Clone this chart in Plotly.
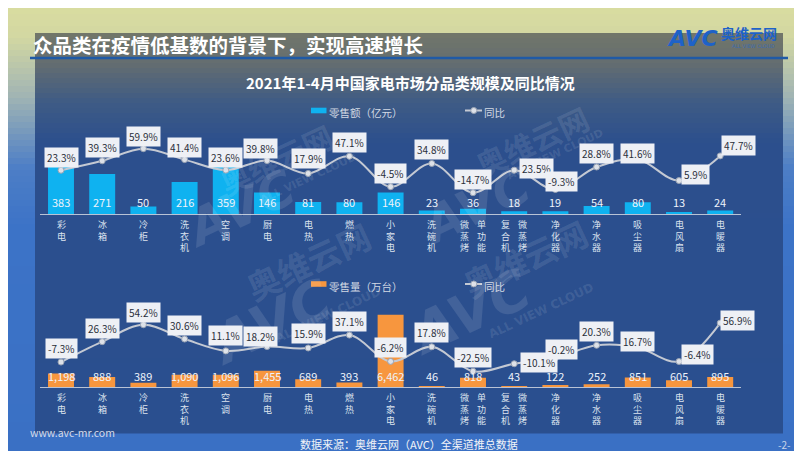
import plotly.graph_objects as go

# ---------------- data ----------------
categories = ['彩电', '冰箱', '冷柜', '洗衣机', '空调', '厨电', '电热', '燃热', '小家电', '洗碗机',
              '单功能微蒸烤', '微蒸烤复合机', '净化器', '净水器', '吸尘器', '电风扇', '电暖器']
tick_columns = [['彩电'], ['冰箱'], ['冷柜'], ['洗衣机'], ['空调'], ['厨电'], ['电热'], ['燃热'],
                ['小家电'], ['洗碗机'], ['微蒸烤', '单功能'], ['复合机', '微蒸烤'], ['净化器'],
                ['净水器'], ['吸尘器'], ['电风扇'], ['电暖器']]
sales_value = [383, 271, 50, 216, 359, 146, 81, 80, 146, 23, 36, 18, 19, 54, 80, 13, 24]
sales_value_yoy = [23.3, 39.3, 59.9, 41.4, 23.6, 39.8, 17.9, 47.1, -4.5, 34.8, -14.7, 23.5, -9.3,
                   28.8, 41.6, 5.9, 47.7]
sales_volume = [1198, 888, 389, 1090, 1096, 1455, 689, 393, 6462, 46, 818, 43, 122, 252, 851, 605, 895]
sales_volume_yoy = [-7.3, 26.3, 54.2, 30.6, 11.1, 18.2, 15.9, 37.1, -6.2, 17.8, -22.5, -10.1, -0.2,
                    20.3, 16.7, -6.4, 56.9]

# label offsets (pixels) for the YoY boxes: (dx, dy up)
top_label_shift = [(0, 13), (0, 13), (0, 12), (0, 12), (0, 13), (-7, 12), (0, 15), (0, 14), (0, 13),
                   (0, 14), (0, 13), (22, 2), (6, 8), (0, 14), (0, 6), (16, 6), (18, 10)]
bot_label_shift = [(0, 14), (0, 13), (0, 12), (0, 14), (0, 15), (-7, 10), (0, 14), (0, 14), (0, 14),
                   (0, 14), (0, 14), (25, 1), (6, 8), (0, 14), (0, 6), (18, 7), (17, 3)]

W, H = 802, 451
CJK = 'Noto Sans CJK SC'


def px(x):
    return x / W


def py(y):
    return 1 - y / H


def hex2rgb(h):
    h = h.lstrip('#')
    return [int(h[i:i + 2], 16) for i in (0, 2, 4)]


def grad(stops, y):
    for (y0, c0), (y1, c1) in zip(stops, stops[1:]):
        if y0 <= y <= y1:
            t = (y - y0) / (y1 - y0) if y1 > y0 else 0
            a, b = hex2rgb(c0), hex2rgb(c1)
            return 'rgb(%d,%d,%d)' % tuple(round(a[k] + (b[k] - a[k]) * t) for k in range(3))
    return stops[-1][1]


shapes = []
# outer slide background gradient
outer_stops = [(0, '#d9dca0'), (30, '#d2d7a2'), (90, '#9fb3b4'), (160, '#4d7ec6'), (220, '#3c73c7'), (451, '#3a70c4')]
step = 6
for y in range(0, H, step):
    shapes.append(dict(type='rect', xref='paper', yref='paper', x0=0, x1=1, y0=py(y + step + 0.5), y1=py(y),
                       fillcolor=grad(outer_stops, y + step / 2), line_width=0, layer='below'))
# inner panel gradient
panel_stops = [(25, '#72776a'), (55, '#646d70'), (95, '#3e5b85'), (135, '#2c4f8d'), (425, '#2a4f8f')]
for y in range(25, 425, 5):
    y2 = min(y + 5, 425)
    shapes.append(dict(type='rect', xref='paper', yref='paper', x0=px(27), x1=px(775), y0=py(y2 + 0.5), y1=py(y),
                       fillcolor=grad(panel_stops, y + 2.5), line_width=0, layer='below'))
# title underline
shapes.append(dict(type='line', xref='paper', yref='paper', x0=px(22), x1=px(780), y0=py(50), y1=py(50),
                   line=dict(color='#1f5aa6', width=2.5)))

fig = go.Figure()

xdom = [px(32.4), px(732.8)]
top_dom = [py(206), py(90)]
bot_dom = [py(379), py(263)]
xs = list(range(len(categories)))

fig.add_trace(go.Bar(x=xs, y=sales_value, xaxis='x', yaxis='y', marker_color='#0fb2f0',
                     marker_line_width=0, width=0.63, showlegend=False, hoverinfo='skip'))
fig.add_trace(go.Scatter(x=xs, y=sales_value_yoy, xaxis='x', yaxis='y2', mode='lines+markers',
                         line=dict(color='#c4c9d3', width=2, shape='spline', smoothing=1.0),
                         marker=dict(size=6, color='#dde1e8', line=dict(color='#98a2b3', width=1)),
                         cliponaxis=False, showlegend=False, hoverinfo='skip'))
fig.add_trace(go.Bar(x=xs, y=sales_volume, xaxis='x2', yaxis='y3', marker_color='#f7963e',
                     marker_line_width=0, width=0.63, showlegend=False, hoverinfo='skip'))
fig.add_trace(go.Scatter(x=xs, y=sales_volume_yoy, xaxis='x2', yaxis='y4', mode='lines+markers',
                         line=dict(color='#c4c9d3', width=2, shape='spline', smoothing=1.0),
                         marker=dict(size=6, color='#dde1e8', line=dict(color='#98a2b3', width=1)),
                         cliponaxis=False, showlegend=False, hoverinfo='skip'))

ax_common = dict(showgrid=False, zeroline=False, showticklabels=False, ticks='')
fig.update_layout(
    xaxis=dict(domain=xdom, range=[-0.5, 16.5], anchor='y', showline=True, linecolor='#b9c3d5', linewidth=1.2, **ax_common),
    xaxis2=dict(domain=xdom, range=[-0.5, 16.5], anchor='y3', showline=True, linecolor='#b9c3d5', linewidth=1.2, **ax_common),
    yaxis=dict(domain=top_dom, range=[0, 784], **ax_common),
    yaxis2=dict(domain=top_dom, range=[-50.8, 145.8], overlaying='y', anchor='x', **ax_common),
    yaxis3=dict(domain=bot_dom, range=[0, 10376], anchor='x2', **ax_common),
    yaxis4=dict(domain=bot_dom, range=[-48.4, 142.7], overlaying='y3', anchor='x2', **ax_common),
)

ann = []
# title & headings
ann.append(dict(text='<b>众品类在疫情低基数的背景下，实现高速增长</b>', x=px(23), y=py(36), xref='paper', yref='paper',
                xanchor='left', yanchor='middle', showarrow=False, font=dict(family=CJK, size=19.5, color='white')))
ann.append(dict(text='<b>2021年1-4月中国家电市场分品类规模及同比情况</b>', x=px(403), y=py(75), xref='paper', yref='paper',
                xanchor='center', yanchor='middle', showarrow=False, font=dict(family=CJK, size=15, color='white')))
# logo
ann.append(dict(text='<b><i>AVC</i></b>', x=px(657), y=py(31), xref='paper', yref='paper', xanchor='left',
                yanchor='middle', showarrow=False, font=dict(family='DejaVu Sans', size=22, color='#1e62c8')))
ann.append(dict(text='<b>奥维云网</b>', x=px(711), y=py(25), xref='paper', yref='paper', xanchor='left',
                yanchor='middle', showarrow=False, font=dict(family=CJK, size=14, color='#1e62c8')))
ann.append(dict(text='ALL VIEW CLOUD', x=px(745), y=py(38), xref='paper', yref='paper', xanchor='center',
                yanchor='middle', showarrow=False, font=dict(family='DejaVu Sans', size=5, color='#3a6ab0')))
# footer
ann.append(dict(text='www.avc-mr.com', x=px(20), y=py(424), xref='paper', yref='paper', xanchor='left',
                yanchor='middle', showarrow=False, font=dict(family=CJK, size=10.5, color='#d5dbe8')))
ann.append(dict(text='数据来源：奥维云网（AVC）全渠道推总数据', x=px(401), y=py(436), xref='paper', yref='paper',
                xanchor='center', yanchor='middle', showarrow=False, font=dict(family=CJK, size=11, color='#f2f4f8')))
ann.append(dict(text='-2-', x=px(776), y=py(436), xref='paper', yref='paper', xanchor='center',
                yanchor='middle', showarrow=False, font=dict(family=CJK, size=10, color='#c9d4e8')))

# watermarks
wm = 'rgba(255,255,255,0.11)'
for (ax_, ay_, bx, by, cx, cy, s) in [(165, 148, 268, 103, 300, 140, 1.0), (468, 145, 590, 85, 600, 116, 1.0),
                                      (190, 372, 300, 305, 320, 340, 1.1), (462, 362, 590, 302, 590, 336, 1.1)]:
    ann.append(dict(text='<b><i>AVC</i></b>', x=px(ax_), y=py(ay_), xref='paper', yref='paper', showarrow=False,
                    textangle=-25, font=dict(family='DejaVu Sans', size=int(50 * s), color=wm)))
    ann.append(dict(text='<b>奥维云网</b>', x=px(bx), y=py(by), xref='paper', yref='paper', showarrow=False,
                    textangle=-25, font=dict(family=CJK, size=int(30 * s), color=wm)))
    ann.append(dict(text='<b>ALL VIEW CLOUD</b>', x=px(cx), y=py(cy), xref='paper', yref='paper', showarrow=False,
                    textangle=-25, font=dict(family='DejaVu Sans', size=int(11 * s), color=wm)))

# legends
for (ly, name, col) in [(102.5, '零售额（亿元）', '#0fb2f0'), (276, '零售量（万台）', '#f7963e')]:
    shapes.append(dict(type='rect', xref='paper', yref='paper', x0=px(303), x1=px(318.5), y0=py(ly + 2.8),
                       y1=py(ly - 2.8), fillcolor=col, line_width=0))
    ann.append(dict(text=name, x=px(319), y=py(ly + 2.5), xref='paper', yref='paper', xanchor='left',
                    yanchor='middle', showarrow=False, font=dict(family=CJK, size=10.5, color='#d3d9e4')))
    shapes.append(dict(type='line', xref='paper', yref='paper', x0=px(457), x1=px(474), y0=py(ly), y1=py(ly),
                       line=dict(color='#c4c9d3', width=2)))
    shapes.append(dict(type='circle', xref='paper', yref='paper', x0=px(462.8), x1=px(468.8), y0=py(ly + 3),
                       y1=py(ly - 3), fillcolor='#dde1e8', line=dict(color='#98a2b3', width=1)))
    ann.append(dict(text='同比', x=px(474), y=py(ly + 2.5), xref='paper', yref='paper', xanchor='left',
                    yanchor='middle', showarrow=False, font=dict(family=CJK, size=10.5, color='#d3d9e4')))

# bar value labels and yoy labels
for (xa, ybar, yline, vals, yoys, shifts, vshift) in [
        ('x', 'y', 'y2', sales_value, sales_value_yoy, top_label_shift, 12),
        ('x2', 'y3', 'y4', sales_volume, sales_volume_yoy, bot_label_shift, 11.5)]:
    for i in xs:
        ann.append(dict(text=f'{vals[i]:,}', x=i, y=0, xref=xa, yref=ybar, yshift=vshift, showarrow=False,
                        xanchor='center', yanchor='middle', font=dict(family=CJK, size=11, color='#eef3fb')))
        dx, dy = shifts[i]
        ann.append(dict(text=f'{yoys[i]:.1f}%', x=i, y=yoys[i], xref=xa, yref=yline, xshift=dx, yshift=dy,
                        showarrow=False, xanchor='center', yanchor='middle', bgcolor='#eef0f5', borderpad=2,
                        font=dict(family=CJK, size=10, color='#2a2f3a')))

# vertical category labels (one stacked column per text block)
for (xa, axis_y) in [('x', 206), ('x2', 379)]:
    for i, cols in enumerate(tick_columns):
        offs = [0] if len(cols) == 1 else [-8.5, 8.5]
        for c, col in enumerate(cols):
            ann.append(dict(text='<br>'.join(col), x=i, y=py(axis_y + 3), xref=xa, yref='paper',
                            xshift=offs[c], showarrow=False, xanchor='center', yanchor='top', align='center',
                            borderpad=0, font=dict(family=CJK, size=9, color='#dce3ee')))

fig.update_layout(width=W, height=H, margin=dict(l=0, r=0, t=0, b=0), paper_bgcolor='#3a70c4',
                  plot_bgcolor='rgba(0,0,0,0)', shapes=shapes, annotations=ann, showlegend=False,
                  bargap=0.37)
fig.write_html('out.html')
